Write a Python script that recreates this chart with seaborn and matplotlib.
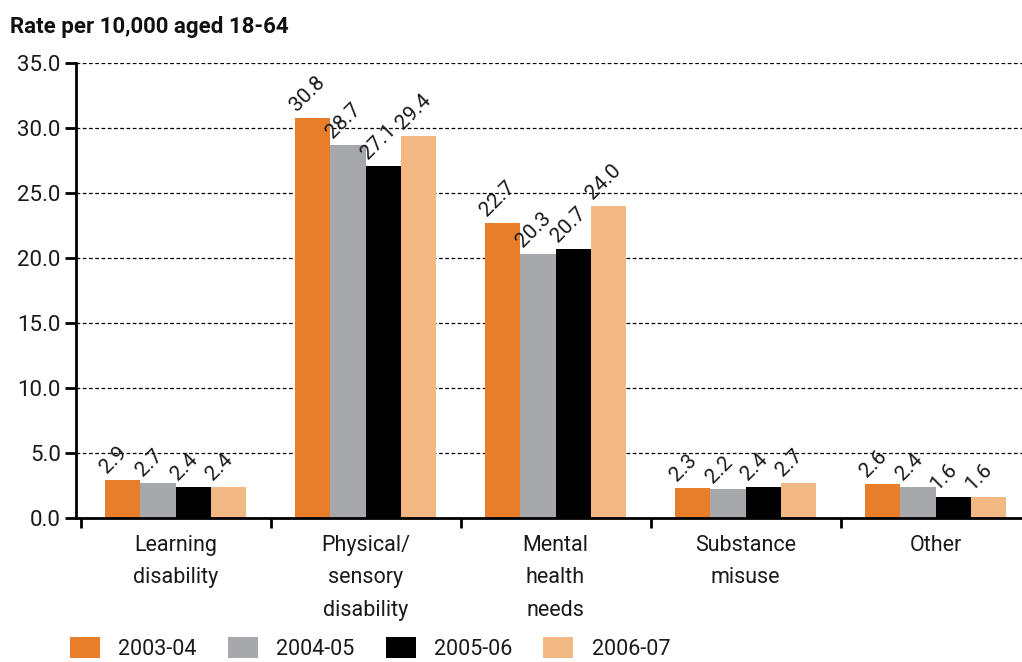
import matplotlib
matplotlib.use("Agg")
import matplotlib.pyplot as plt
import matplotlib.patches as mpatches
from matplotlib.ticker import MultipleLocator, FixedLocator
import seaborn as sns
import pandas as pd

categories = ["Learning\ndisability", "Physical/\nsensory\ndisability", "Mental\nhealth\nneeds",
              "Substance\nmisuse", "Other"]
years = ["2003-04", "2004-05", "2005-06", "2006-07"]
v_2003 = [2.9, 30.8, 22.7, 2.3, 2.6]
v_2004 = [2.7, 28.7, 20.3, 2.2, 2.4]
v_2005 = [2.4, 27.1, 20.7, 2.4, 1.6]
v_2006 = [2.4, 29.4, 24.0, 2.7, 1.6]
colors = ["#E87D2A", "#A7A8AB", "#000000", "#F2B884"]

rows = []
for yr, vals in zip(years, [v_2003, v_2004, v_2005, v_2006]):
    for c, v in zip(categories, vals):
        rows.append({"cat": c, "year": yr, "val": v})
df = pd.DataFrame(rows)

sns.set_style("white")
plt.rcParams["font.family"] = ["Roboto", "DejaVu Sans"]

fig = plt.figure(figsize=(10.22, 6.62), dpi=100)
ax = fig.add_axes([76 / 1022, 1 - 518 / 662, 1 - 76 / 1022, (518 - 63) / 662])

sns.barplot(data=df, x="cat", y="val", hue="year", order=categories, hue_order=years,
            palette=colors, width=0.74, gap=0, saturation=1, ax=ax, legend=False,
            edgecolor="none", linewidth=0, zorder=3)

ax.set_xlim(-0.524, 4.455)
ax.set_ylim(0, 35)
ax.yaxis.set_major_locator(MultipleLocator(5))
ax.set_yticklabels([f"{t:.1f}" for t in ax.get_yticks()])
ax.yaxis.grid(True, linestyle=(0, (3, 2)), color="black", linewidth=0.9, zorder=0)
ax.xaxis.grid(False)
for s in ["top", "right"]:
    ax.spines[s].set_visible(False)
for s in ["left", "bottom"]:
    ax.spines[s].set_color("black")
    ax.spines[s].set_linewidth(2)
    ax.spines[s].set_zorder(5)

ax.set_xlabel("")
ax.set_ylabel("")
ax.tick_params(axis="y", which="major", length=8, width=2, color="black", left=True,
               labelsize=16, pad=3, labelcolor="#1a1a1a")
ax.tick_params(axis="x", which="major", length=0, labelsize=15.5, pad=12, labelcolor="#1a1a1a")
ax.xaxis.set_minor_locator(FixedLocator([-0.5, 0.5, 1.5, 2.5, 3.5]))
ax.tick_params(axis="x", which="minor", length=7, width=2, color="black", bottom=True)
for lbl in ax.get_xticklabels():
    lbl.set_linespacing(1.72)

for cont in ax.containers:
    for bar in cont:
        h = bar.get_height()
        ax.text(bar.get_x() + bar.get_width() * 0.06, h + 0.45, f"{h:.1f}", rotation=45,
                rotation_mode="anchor", ha="left", va="baseline", fontsize=15, color="#1a1a1a",
                zorder=6)

fig.text(0.010, 0.959, "Rate per 10,000 aged 18-64", fontsize=16, fontweight="bold",
         ha="left", va="center", color="#111111")

handles = [mpatches.Patch(facecolor=c, edgecolor="none") for c in colors]
fig.legend(handles, years, ncol=4, loc="lower left", bbox_to_anchor=(70 / 1022, 2 / 662),
           frameon=False, fontsize=15.5, handlelength=1.4, handleheight=1.16,
           handletextpad=0.84, columnspacing=1.45, borderpad=0, borderaxespad=0,
           labelcolor="#1a1a1a")

fig.savefig("out.png", dpi=100)
